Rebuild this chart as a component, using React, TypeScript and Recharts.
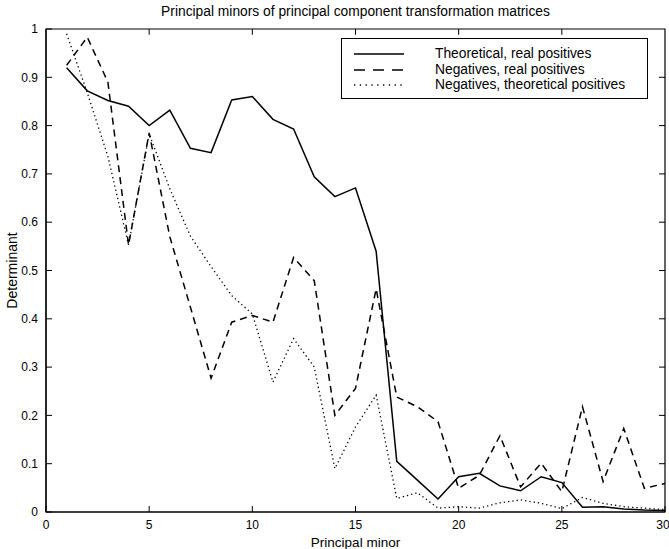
import { LineChart, Line, XAxis, YAxis, ReferenceArea, ReferenceLine, Legend, Label } from "recharts"

// principal minor index (x) and the three determinant curves
const minors = [1, 2, 3, 4, 5, 6, 7, 8, 9, 10, 11, 12, 13, 14, 15, 16, 17, 18, 19, 20, 21, 22, 23, 24, 25, 26, 27, 28, 29, 30]

const theoreticalReal = [0.92, 0.872, 0.852, 0.84, 0.8, 0.832, 0.753, 0.744, 0.853, 0.86, 0.813, 0.793, 0.694, 0.653, 0.671, 0.54, 0.105, 0.066, 0.027, 0.073, 0.08, 0.054, 0.044, 0.073, 0.061, 0.01, 0.011, 0.006, 0.004, 0.003]
const negativesReal = [0.925, 0.983, 0.89, 0.553, 0.785, 0.57, 0.424, 0.277, 0.393, 0.407, 0.393, 0.527, 0.479, 0.2, 0.256, 0.462, 0.238, 0.218, 0.187, 0.049, 0.076, 0.158, 0.052, 0.101, 0.042, 0.218, 0.063, 0.173, 0.049, 0.059]
const negativesTheoretical = [0.99, 0.868, 0.736, 0.553, 0.783, 0.669, 0.571, 0.508, 0.448, 0.41, 0.269, 0.359, 0.3, 0.09, 0.176, 0.242, 0.028, 0.04, 0.008, 0.011, 0.008, 0.019, 0.025, 0.018, 0.007, 0.03, 0.018, 0.011, 0.008, 0.005]

const xTicks = [0, 5, 10, 15, 20, 25, 30]
const yTicks = [0, 0.1, 0.2, 0.3, 0.4, 0.5, 0.6, 0.7, 0.8, 0.9, 1]

const series = [
  { key: "theoreticalReal", name: "Theoretical, real positives", dash: undefined as string | undefined, legendDash: undefined as string | undefined, width: 1.5 },
  { key: "negativesReal", name: "Negatives, real positives", dash: "7 5", legendDash: "11 8", width: 1.5 },
  { key: "negativesTheoretical", name: "Negatives, theoretical positives", dash: "1.3 3", legendDash: "1.3 4.5", width: 1.3 },
]

const data = minors.map((m, i) => ({
  minor: m,
  theoreticalReal: theoreticalReal[i],
  negativesReal: negativesReal[i],
  negativesTheoretical: negativesTheoretical[i],
}))

const font = "'Liberation Sans', Arial, Helvetica, sans-serif"

function LegendBox({ payload }: any) {
  const items = (payload || []).slice().sort((a: any, b: any) =>
    series.findIndex(s => s.key === a.dataKey) - series.findIndex(s => s.key === b.dataKey))
  return (
    <div style={{ boxSizing: "border-box", width: 307, height: 61, border: "1px solid #000", background: "#fff", paddingTop: 7, fontFamily: font, fontSize: 13.8, textAlign: "left" }}>
      {items.map((entry: any) => {
        const s = series.find(x => x.key === entry.dataKey) || series[0]
        return (
          <div key={s.key} style={{ display: "flex", alignItems: "center", height: 15.5 }}>
            <svg width={93} height={15.5} style={{ flex: "none" }}>
              <line x1={12} x2={62} y1={8} y2={8} stroke="#000" strokeWidth={s.width} strokeDasharray={s.legendDash} />
            </svg>
            <span style={{ color: "#000", lineHeight: "15.5px" }}>{s.name}</span>
          </div>
        )
      })}
    </div>
  )
}

function DeterminantLabel({ viewBox }: any) {
  const cx = viewBox.x + 12
  const cy = viewBox.y + viewBox.height / 2
  return (
    <text x={cx} y={cy} transform={`rotate(-90 ${cx} ${cy})`} textAnchor="middle" dominantBaseline="central" fontSize={14} fill="#000" fontFamily={font}>
      Determinant
    </text>
  )
}

function MinorLabel({ viewBox }: any) {
  return (
    <text x={viewBox.x + viewBox.width / 2} y={viewBox.y + 34.5} textAnchor="middle" fontSize={13.5} fill="#000" fontFamily={font}>
      Principal minor
    </text>
  )
}

export default function App() {
  return (
    <div style={{ position: "absolute", left: 0, top: 0, width: 669, height: 549, background: "#fff", fontFamily: font }}>
      <LineChart width={669} height={549} data={data} margin={{ top: 29, right: 4, bottom: 1, left: 0 }}>
        <XAxis dataKey="minor" type="number" domain={[0, 30]} ticks={xTicks} height={36}
          tickSize={-6} tickMargin={14} axisLine={{ stroke: "#000", strokeWidth: 1.2 }} tickLine={{ stroke: "#000" }}
          tick={{ fontSize: 12, fill: "#000", fontFamily: font }} allowDataOverflow>
          <Label content={<MinorLabel />} />
        </XAxis>
        <YAxis type="number" domain={[0, 1]} ticks={yTicks} width={46} tickFormatter={(v: number) => String(v)}
          tickSize={-6} tickMargin={14} axisLine={{ stroke: "#000", strokeWidth: 1.2 }} tickLine={{ stroke: "#000" }}
          tick={{ fontSize: 12, fill: "#000", fontFamily: font }} allowDataOverflow>
          <Label content={<DeterminantLabel />} />
        </YAxis>
        <ReferenceArea x1={0} x2={30} y1={0} y2={1} stroke="#000" strokeWidth={1.2} fill="none" fillOpacity={0} ifOverflow="visible" />
        {xTicks.slice(1, -1).map(t => (
          <ReferenceLine key={"top" + t} segment={[{ x: t, y: 1 }, { x: t, y: 0.988 }]} stroke="#000" ifOverflow="visible" />
        ))}
        {yTicks.slice(1, -1).map(t => (
          <ReferenceLine key={"right" + t} segment={[{ x: 30, y: t }, { x: 29.71, y: t }]} stroke="#000" ifOverflow="visible" />
        ))}
        {series.map(s => (
          <Line key={s.key} dataKey={s.key} name={s.name} type="linear" stroke="#000" strokeWidth={s.width}
            strokeDasharray={s.dash} dot={false} activeDot={false} isAnimationActive={false} />
        ))}
        <Legend layout="vertical" align="center" verticalAlign="middle" content={<LegendBox />}
          wrapperStyle={{ left: 341, top: 38, width: 307, height: 61 }} />
      </LineChart>
      <div style={{ position: "absolute", zIndex: 2, left: 46, top: 4, width: 619, textAlign: "center", fontSize: 13.8, lineHeight: "16px", color: "#000" }}>
        Principal minors of principal component transformation matrices
      </div>
    </div>
  )
}
